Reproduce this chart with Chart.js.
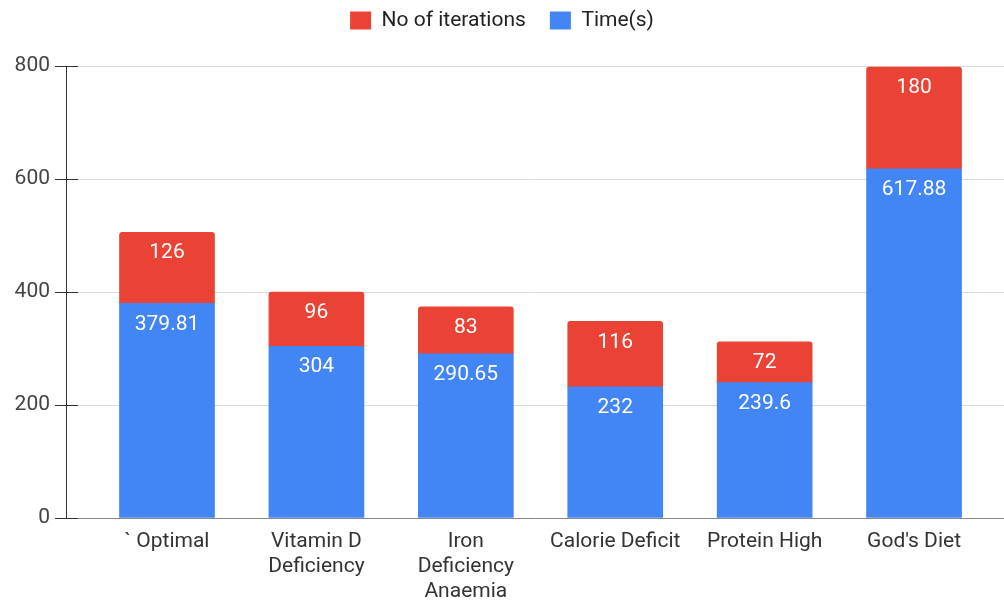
<!DOCTYPE html>
<html>
<head>
<meta charset="utf-8">
<script src="https://cdn.jsdelivr.net/npm/chart.js@4"></script>
<style>
  html, body { margin: 0; padding: 0; background: #fff; }
  #wrap { width: 1004px; height: 600px; }
</style>
</head>
<body>
<div id="wrap"><canvas id="dietChart"></canvas></div>
<script>
const categories = [["` Optimal"], ["Vitamin D", "Deficiency"], ["Iron", "Deficiency", "Anaemia"], ["Calorie Deficit"], ["Protein High"], ["God's Diet"]];
const timeValues = [379.81, 304, 290.65, 232, 239.6, 617.88];
const iterationValues = [126, 96, 83, 116, 72, 180];
const yTicks = [0, 200, 400, 600, 800];

const font = "Roboto, Arial, sans-serif";

function toPoints(values) {
  return values.map((v, i) => ({ x: i, y: v }));
}

// extra space under the legend, and lift it closer to the top edge
const legendMargin = {
  id: "legendMargin",
  beforeInit(chart) {
    const fit = chart.legend.fit;
    chart.legend.fit = function () {
      fit.bind(chart.legend)();
      this.height += 11;
    };
  },
  afterLayout(chart) {
    chart.legend.top -= 14;
  }
};

const barLabels = {
  id: "barLabels",
  afterDatasetsDraw(chart) {
    const ctx = chart.ctx;
    ctx.save();
    ctx.fillStyle = "#ffffff";
    ctx.font = "21px " + font;
    ctx.textAlign = "center";
    ctx.textBaseline = "middle";
    chart.data.datasets.forEach((ds, di) => {
      chart.getDatasetMeta(di).data.forEach((bar, i) => {
        ctx.fillText(String(ds.data[i].y), bar.x, bar.y + 21);
      });
    });
    ctx.restore();
  }
};

// tick marks cross the y axis in the original
const axisTicks = {
  id: "axisTicks",
  afterDraw(chart) {
    const y = chart.scales.y;
    const ctx = chart.ctx;
    ctx.save();
    ctx.strokeStyle = "#333";
    ctx.lineWidth = 1;
    y.ticks.forEach(t => {
      const py = Math.round(y.getPixelForValue(t.value)) + 0.5;
      ctx.beginPath();
      ctx.moveTo(chart.chartArea.left, py);
      ctx.lineTo(chart.chartArea.left + 12, py);
      ctx.stroke();
    });
    ctx.restore();
  }
};

new Chart(document.getElementById("dietChart"), {
  type: "bar",
  data: {
    datasets: [
      {
        label: "Time(s)",
        data: toPoints(timeValues),
        backgroundColor: "#4285F4",
        barThickness: 95
      },
      {
        label: "No of iterations",
        data: toPoints(iterationValues),
        backgroundColor: "#EA4335",
        barThickness: 95,
        borderRadius: { topLeft: 3, topRight: 3, bottomLeft: 0, bottomRight: 0 },
        borderSkipped: false
      }
    ]
  },
  options: {
    responsive: true,
    maintainAspectRatio: false,
    animation: false,
    plugins: {
      legend: {
        reverse: true,
        labels: {
          boxWidth: 21,
          boxHeight: 18,
          padding: 24,
          color: "#222",
          font: { family: font, size: 21 }
        }
      },
      tooltip: { enabled: false }
    },
    scales: {
      x: {
        type: "linear",
        stacked: true,
        offset: false,
        min: -0.676,
        max: 5.602,
        afterBuildTicks(scale) {
          scale.ticks = categories.map((c, i) => ({ value: i }));
        },
        afterFit(scale) { scale.height = 82; },
        grid: { display: false, drawTicks: false },
        border: { color: "#888", width: 1 },
        ticks: {
          padding: 11,
          autoSkip: false,
          maxRotation: 0,
          color: "#333",
          font: { family: font, size: 21, lineHeight: 1.2 },
          callback: v => categories[v] || ""
        }
      },
      y: {
        stacked: true,
        min: 0,
        max: 800,
        afterBuildTicks(scale) {
          scale.ticks = yTicks.map(v => ({ value: v }));
        },
        afterFit(scale) { scale.width = 66; },
        grid: { color: "#d9d9d9", tickColor: "#333", tickLength: 11 },
        border: { color: "#333", width: 1 },
        ticks: {
          padding: 5,
          color: "#444",
          font: { family: font, size: 21 }
        }
      }
    }
  },
  plugins: [legendMargin, barLabels, axisTicks]
});
</script>
</body>
</html>
